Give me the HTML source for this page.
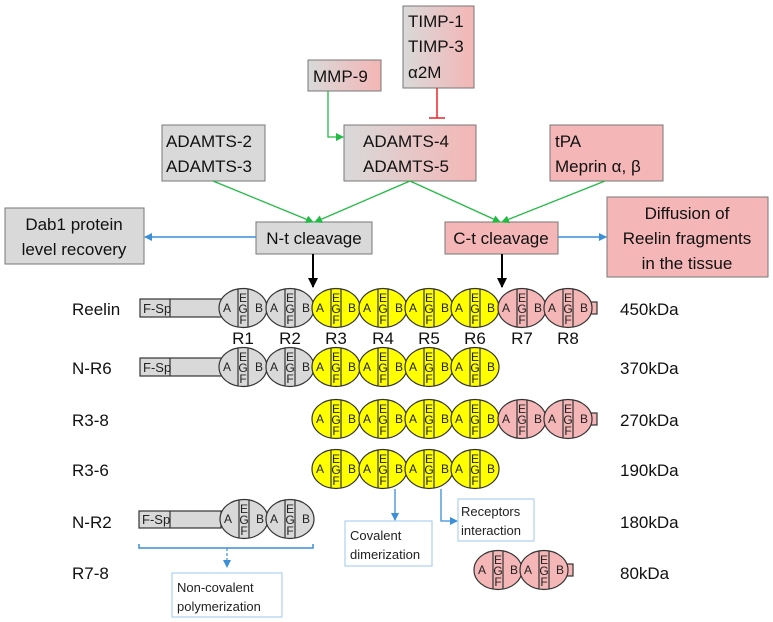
<!DOCTYPE html>
<html><head><meta charset="utf-8"><style>
body{margin:0;background:#fff}
svg{display:block;font-family:"Liberation Sans",sans-serif}
.g{fill:#d9d9d9}.y{fill:#ffff00}.p{fill:#f4b6b6}
.e{stroke:#333;stroke-width:1.2}
.bx{stroke:#777;stroke-width:1}
.t{font-size:17px;fill:#111}
.s{font-size:13px;fill:#222}
</style></head><body>
<svg width="773" height="622" viewBox="0 0 773 622" xmlns="http://www.w3.org/2000/svg">
<defs>
<linearGradient id="gp" x1="0" x2="1" y1="0" y2="0"><stop offset="0" stop-color="#d9d9d9"/><stop offset="1" stop-color="#f4b6b6"/></linearGradient>
<marker id="ag" markerWidth="8" markerHeight="8" refX="7" refY="4" orient="auto" markerUnits="userSpaceOnUse"><path d="M0,0 L8,4 L0,8 Z" fill="#22bb44"/></marker>
<marker id="ab" markerWidth="8" markerHeight="8" refX="7" refY="4" orient="auto" markerUnits="userSpaceOnUse"><path d="M0,0 L8,4 L0,8 Z" fill="#3b8fd6"/></marker>
<marker id="ak" markerWidth="10" markerHeight="10" refX="9" refY="5" orient="auto" markerUnits="userSpaceOnUse"><path d="M0,0 L10,5 L0,10 Z" fill="#000"/></marker>
<g id="rep"><line x1="-5" y1="-19" x2="-5" y2="19" stroke="#333" stroke-width="1.2"/><line x1="5" y1="-19" x2="5" y2="19" stroke="#333" stroke-width="1.2"/></g>
</defs>

<rect x="403" y="6" width="71" height="82" fill="url(#gp)" class="bx"/>
<text class="t" x="408" y="27">TIMP-1</text><text class="t" x="408" y="52">TIMP-3</text><text class="t" x="408" y="78">α2M</text>
<rect x="308" y="60" width="73" height="31" fill="url(#gp)" class="bx"/>
<text class="t" x="313" y="82">MMP-9</text>
<rect x="344" y="125" width="132" height="56" fill="url(#gp)" class="bx"/>
<text class="t" x="363" y="147">ADAMTS-4</text><text class="t" x="363" y="172">ADAMTS-5</text>
<rect x="162" y="125" width="103" height="56" class="g bx"/>
<text class="t" x="166" y="147">ADAMTS-2</text><text class="t" x="166" y="172">ADAMTS-3</text>
<rect x="550" y="125" width="113" height="56" class="p bx"/>
<text class="t" x="555" y="147">tPA</text><text class="t" x="555" y="172">Meprin α, β</text>
<rect x="256" y="222" width="116" height="32" class="g bx"/>
<text class="t" x="314" y="244" text-anchor="middle">N-t cleavage</text>
<rect x="445" y="222" width="113" height="32" class="p bx"/>
<text class="t" x="501" y="244" text-anchor="middle">C-t cleavage</text>
<rect x="5" y="208" width="139" height="56" class="g bx"/>
<text class="t" x="74" y="230" text-anchor="middle">Dab1 protein</text><text class="t" x="74" y="255" text-anchor="middle">level recovery</text>
<rect x="607" y="197" width="161" height="80" class="p bx"/>
<text class="t" x="687" y="219" text-anchor="middle">Diffusion of</text><text class="t" x="687" y="244" text-anchor="middle">Reelin fragments</text><text class="t" x="687" y="269" text-anchor="middle">in the tissue</text>

<line x1="437" y1="88" x2="437" y2="118" stroke="#e8262a" stroke-width="1.5"/>
<line x1="429" y1="118" x2="445" y2="118" stroke="#e8262a" stroke-width="1.5"/>
<path d="M328,91 V137 H343" fill="none" stroke="#22bb44" stroke-width="1.3" marker-end="url(#ag)"/>
<line x1="213" y1="181" x2="313" y2="222" stroke="#22bb44" stroke-width="1.3" marker-end="url(#ag)"/>
<line x1="410" y1="181" x2="315" y2="222" stroke="#22bb44" stroke-width="1.3" marker-end="url(#ag)"/>
<line x1="410" y1="181" x2="500" y2="222" stroke="#22bb44" stroke-width="1.3" marker-end="url(#ag)"/>
<line x1="605" y1="181" x2="502" y2="222" stroke="#22bb44" stroke-width="1.3" marker-end="url(#ag)"/>
<line x1="256" y1="237" x2="145" y2="237" stroke="#3b8fd6" stroke-width="1.5" marker-end="url(#ab)"/>
<line x1="558" y1="237" x2="606" y2="237" stroke="#3b8fd6" stroke-width="1.5" marker-end="url(#ab)"/>
<line x1="313" y1="254" x2="313" y2="287" stroke="#000" stroke-width="2" marker-end="url(#ak)"/>
<line x1="502" y1="254" x2="502" y2="287" stroke="#000" stroke-width="2" marker-end="url(#ak)"/>

<g class="t" font-size="18">
<text x="72" y="315">Reelin</text><text x="72" y="374">N-R6</text><text x="72" y="426">R3-8</text>
<text x="72" y="476">R3-6</text><text x="72" y="528">N-R2</text><text x="72" y="579">R7-8</text>
<text x="620" y="315">450kDa</text><text x="620" y="374">370kDa</text><text x="620" y="426">270kDa</text>
<text x="620" y="476">190kDa</text><text x="620" y="528">180kDa</text><text x="620" y="579">80kDa</text>
</g>
<g class="t" text-anchor="middle" font-size="17">
<text x="243" y="344">R1</text><text x="290" y="344">R2</text><text x="336" y="344">R3</text><text x="383" y="344">R4</text>
<text x="429" y="344">R5</text><text x="475" y="344">R6</text><text x="522" y="344">R7</text><text x="568" y="344">R8</text>
</g>

<g class="e"><rect x="140" y="299" width="82" height="18" class="g"/><line x1="170" y1="299" x2="170" y2="317"/></g>
<text class="s" x="143" y="313" font-size="12">F-Sp</text>
<g class="e"><rect x="140" y="358" width="82" height="18" class="g"/><line x1="170" y1="358" x2="170" y2="376"/></g>
<text class="s" x="143" y="372" font-size="12">F-Sp</text>
<g class="e"><rect x="139" y="511" width="82" height="17" class="g"/><line x1="170" y1="511" x2="170" y2="528"/></g>
<text class="s" x="142" y="524" font-size="12">F-Sp</text>

<g class="e p"><rect x="590" y="302" width="7" height="12"/><rect x="590" y="413" width="7" height="12"/><rect x="566" y="564" width="7" height="12"/></g>

<g class="e">
<ellipse cx="243" cy="308" rx="24" ry="19.5" class="g"/><ellipse cx="290" cy="308" rx="24" ry="19.5" class="g"/>
<ellipse cx="336" cy="308" rx="24" ry="19.5" class="y"/><ellipse cx="383" cy="308" rx="24" ry="19.5" class="y"/>
<ellipse cx="429" cy="308" rx="24" ry="19.5" class="y"/><ellipse cx="475" cy="308" rx="24" ry="19.5" class="y"/>
<ellipse cx="522" cy="308" rx="24" ry="19.5" class="p"/><ellipse cx="568" cy="308" rx="24" ry="19.5" class="p"/>
<ellipse cx="243" cy="367" rx="24" ry="19.5" class="g"/><ellipse cx="290" cy="367" rx="24" ry="19.5" class="g"/>
<ellipse cx="336" cy="367" rx="24" ry="19.5" class="y"/><ellipse cx="383" cy="367" rx="24" ry="19.5" class="y"/>
<ellipse cx="429" cy="367" rx="24" ry="19.5" class="y"/><ellipse cx="475" cy="367" rx="24" ry="19.5" class="y"/>
<ellipse cx="336" cy="419" rx="24" ry="19.5" class="y"/><ellipse cx="383" cy="419" rx="24" ry="19.5" class="y"/>
<ellipse cx="429" cy="419" rx="24" ry="19.5" class="y"/><ellipse cx="475" cy="419" rx="24" ry="19.5" class="y"/>
<ellipse cx="522" cy="419" rx="24" ry="19.5" class="p"/><ellipse cx="568" cy="419" rx="24" ry="19.5" class="p"/>
<ellipse cx="336" cy="469" rx="24" ry="19.5" class="y"/><ellipse cx="383" cy="469" rx="24" ry="19.5" class="y"/>
<ellipse cx="429" cy="469" rx="24" ry="19.5" class="y"/><ellipse cx="475" cy="469" rx="24" ry="19.5" class="y"/>
<ellipse cx="244" cy="519" rx="24" ry="19.5" class="g"/><ellipse cx="290" cy="519" rx="24" ry="19.5" class="g"/>
<ellipse cx="498" cy="570" rx="24" ry="19.5" class="p"/><ellipse cx="544" cy="570" rx="24" ry="19.5" class="p"/>
</g>
<g>
<use href="#rep" x="243" y="308"/><use href="#rep" x="290" y="308"/><use href="#rep" x="336" y="308"/><use href="#rep" x="383" y="308"/>
<use href="#rep" x="429" y="308"/><use href="#rep" x="475" y="308"/><use href="#rep" x="522" y="308"/><use href="#rep" x="568" y="308"/>
<use href="#rep" x="243" y="367"/><use href="#rep" x="290" y="367"/><use href="#rep" x="336" y="367"/><use href="#rep" x="383" y="367"/>
<use href="#rep" x="429" y="367"/><use href="#rep" x="475" y="367"/>
<use href="#rep" x="336" y="419"/><use href="#rep" x="383" y="419"/><use href="#rep" x="429" y="419"/><use href="#rep" x="475" y="419"/>
<use href="#rep" x="522" y="419"/><use href="#rep" x="568" y="419"/>
<use href="#rep" x="336" y="469"/><use href="#rep" x="383" y="469"/><use href="#rep" x="429" y="469"/><use href="#rep" x="475" y="469"/>
<use href="#rep" x="244" y="519"/><use href="#rep" x="290" y="519"/>
<use href="#rep" x="498" y="570"/><use href="#rep" x="544" y="570"/>
</g>
<g font-size="12" fill="#222" text-anchor="middle">
<text x="227" y="312">A</text><text x="243" y="302">E</text><text x="243" y="313">G</text><text x="243" y="324">F</text><text x="259" y="312">B</text>
<text x="274" y="312">A</text><text x="290" y="302">E</text><text x="290" y="313">G</text><text x="290" y="324">F</text><text x="306" y="312">B</text>
<text x="320" y="312">A</text><text x="336" y="302">E</text><text x="336" y="313">G</text><text x="336" y="324">F</text><text x="352" y="312">B</text>
<text x="367" y="312">A</text><text x="383" y="302">E</text><text x="383" y="313">G</text><text x="383" y="324">F</text><text x="399" y="312">B</text>
<text x="413" y="312">A</text><text x="429" y="302">E</text><text x="429" y="313">G</text><text x="429" y="324">F</text><text x="445" y="312">B</text>
<text x="459" y="312">A</text><text x="475" y="302">E</text><text x="475" y="313">G</text><text x="475" y="324">F</text><text x="491" y="312">B</text>
<text x="506" y="312">A</text><text x="522" y="302">E</text><text x="522" y="313">G</text><text x="522" y="324">F</text><text x="538" y="312">B</text>
<text x="552" y="312">A</text><text x="568" y="302">E</text><text x="568" y="313">G</text><text x="568" y="324">F</text><text x="584" y="312">B</text>

<text x="227" y="371">A</text><text x="243" y="361">E</text><text x="243" y="372">G</text><text x="243" y="383">F</text><text x="259" y="371">B</text>
<text x="274" y="371">A</text><text x="290" y="361">E</text><text x="290" y="372">G</text><text x="290" y="383">F</text><text x="306" y="371">B</text>
<text x="320" y="371">A</text><text x="336" y="361">E</text><text x="336" y="372">G</text><text x="336" y="383">F</text><text x="352" y="371">B</text>
<text x="367" y="371">A</text><text x="383" y="361">E</text><text x="383" y="372">G</text><text x="383" y="383">F</text><text x="399" y="371">B</text>
<text x="413" y="371">A</text><text x="429" y="361">E</text><text x="429" y="372">G</text><text x="429" y="383">F</text><text x="445" y="371">B</text>
<text x="459" y="371">A</text><text x="475" y="361">E</text><text x="475" y="372">G</text><text x="475" y="383">F</text><text x="491" y="371">B</text>

<text x="320" y="423">A</text><text x="336" y="413">E</text><text x="336" y="424">G</text><text x="336" y="435">F</text><text x="352" y="423">B</text>
<text x="367" y="423">A</text><text x="383" y="413">E</text><text x="383" y="424">G</text><text x="383" y="435">F</text><text x="399" y="423">B</text>
<text x="413" y="423">A</text><text x="429" y="413">E</text><text x="429" y="424">G</text><text x="429" y="435">F</text><text x="445" y="423">B</text>
<text x="459" y="423">A</text><text x="475" y="413">E</text><text x="475" y="424">G</text><text x="475" y="435">F</text><text x="491" y="423">B</text>
<text x="506" y="423">A</text><text x="522" y="413">E</text><text x="522" y="424">G</text><text x="522" y="435">F</text><text x="538" y="423">B</text>
<text x="552" y="423">A</text><text x="568" y="413">E</text><text x="568" y="424">G</text><text x="568" y="435">F</text><text x="584" y="423">B</text>

<text x="320" y="473">A</text><text x="336" y="463">E</text><text x="336" y="474">G</text><text x="336" y="485">F</text><text x="352" y="473">B</text>
<text x="367" y="473">A</text><text x="383" y="463">E</text><text x="383" y="474">G</text><text x="383" y="485">F</text><text x="399" y="473">B</text>
<text x="413" y="473">A</text><text x="429" y="463">E</text><text x="429" y="474">G</text><text x="429" y="485">F</text><text x="445" y="473">B</text>
<text x="459" y="473">A</text><text x="475" y="463">E</text><text x="475" y="474">G</text><text x="475" y="485">F</text><text x="491" y="473">B</text>

<text x="228" y="523">A</text><text x="244" y="513">E</text><text x="244" y="524">G</text><text x="244" y="535">F</text><text x="260" y="523">B</text>
<text x="274" y="523">A</text><text x="290" y="513">E</text><text x="290" y="524">G</text><text x="290" y="535">F</text><text x="306" y="523">B</text>

<text x="482" y="574">A</text><text x="498" y="564">E</text><text x="498" y="575">G</text><text x="498" y="586">F</text><text x="514" y="574">B</text>
<text x="528" y="574">A</text><text x="544" y="564">E</text><text x="544" y="575">G</text><text x="544" y="586">F</text><text x="560" y="574">B</text>
</g>

<line x1="395" y1="489" x2="395" y2="520" stroke="#3b8fd6" stroke-width="1.3" marker-end="url(#ab)"/>
<path d="M441,489 V521 H457" fill="none" stroke="#3b8fd6" stroke-width="1.3" marker-end="url(#ab)"/>
<rect x="345" y="521" width="87" height="45" fill="#fff" stroke="#9cc8ec"/>
<text class="s" x="350" y="540">Covalent</text><text class="s" x="350" y="559">dimerization</text>
<rect x="458" y="499" width="76" height="42" fill="#fff" stroke="#9cc8ec"/>
<text class="s" x="461" y="516">Receptors</text><text class="s" x="461" y="535">interaction</text>
<path d="M139,544 V548 H313 V544" fill="none" stroke="#3b8fd6" stroke-width="1.5"/>
<line x1="227" y1="548" x2="227" y2="567" stroke="#3b8fd6" stroke-width="1.2" stroke-dasharray="3,2" marker-end="url(#ab)"/>
<rect x="172" y="573" width="110" height="44" fill="#fff" stroke="#9cc8ec"/>
<text class="s" x="177" y="592">Non-covalent</text><text class="s" x="177" y="611">polymerization</text>
</svg>
</body></html>
